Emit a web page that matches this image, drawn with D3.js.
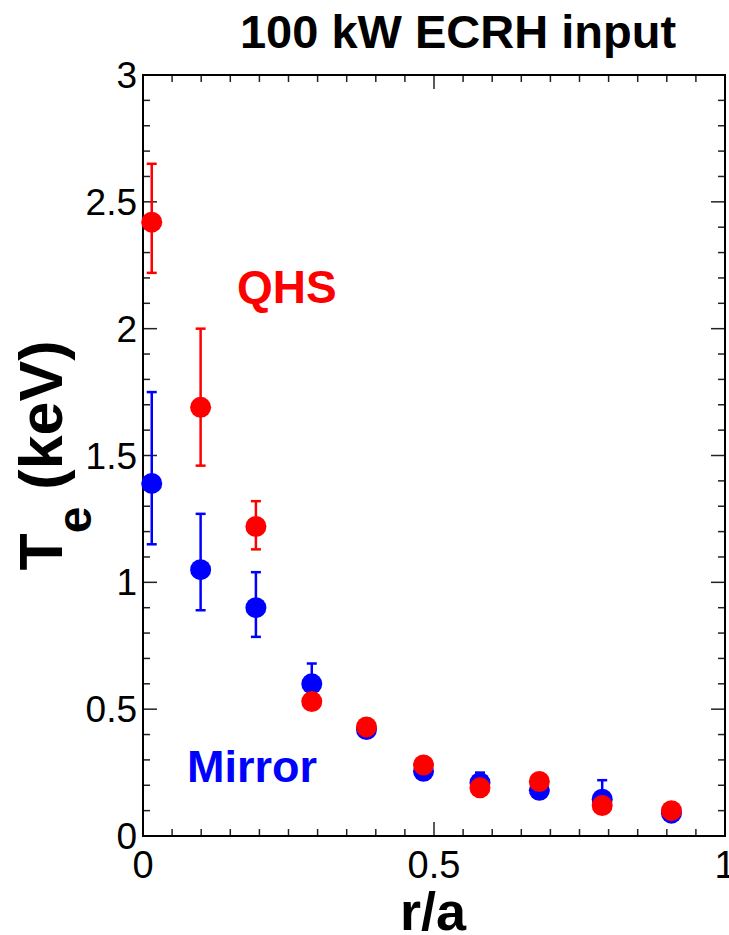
<!DOCTYPE html>
<html>
<head>
<meta charset="utf-8">
<script src="https://cdn.jsdelivr.net/npm/d3@7"></script>
<style>
  html, body { margin: 0; padding: 0; background: #fff; }
  svg { display: block; }
  text { font-family: "Liberation Sans", Arial, sans-serif; }
</style>
</head>
<body>
<svg id="chart" width="729" height="935"></svg>
<script>
// ---- data ----
const rPos = [0.015, 0.099, 0.194, 0.290, 0.384, 0.482, 0.579, 0.681, 0.789, 0.908];
const teQHS = [2.42, 1.69, 1.22, 0.53, 0.43, 0.28, 0.19, 0.215, 0.12, 0.10];
const qhsUpper = [2.65, 2.00, 1.32, null, null, null, null, null, null, null];
const qhsLower = [2.22, 1.46, 1.13, null, null, null, null, null, null, null];
const teMirror = [1.39, 1.05, 0.90, 0.60, 0.42, 0.255, 0.21, 0.18, 0.145, 0.09];
const mirUpper = [1.75, 1.27, 1.04, 0.68, null, null, 0.25, null, 0.22, null];
const mirLower = [1.15, 0.89, 0.785, 0.56, null, null, 0.19, null, 0.12, null];
const xTicks = [0, 0.5, 1];
const yTicks = [0, 0.5, 1, 1.5, 2, 2.5, 3];
const titleText = "100 kW ECRH input";

// ---- layout ----
const svg = d3.select("#chart");
const L = 143, R = 725, T = 75, B = 836;
const x = d3.scaleLinear().domain([0, 1]).range([L, R]);
const y = d3.scaleLinear().domain([0, 3]).range([B, T]);

const g = svg.append("g");

// minor/major ticks, inward, on all four sides
const xMinor = d3.range(0, 1.0001, 0.05);
const yMinor = d3.range(0, 3.0001, 0.1);
const isMajor = v => Math.abs(v * 2 - Math.round(v * 2)) < 1e-6;
const major = 14, minor = 7;

xMinor.forEach(v => {
  const len = isMajor(v) ? major : minor;
  g.append("line").attr("x1", x(v)).attr("x2", x(v)).attr("y1", B).attr("y2", B - len)
    .attr("stroke", "#222").attr("stroke-width", 1.5);
  g.append("line").attr("x1", x(v)).attr("x2", x(v)).attr("y1", T).attr("y2", T + len)
    .attr("stroke", "#222").attr("stroke-width", 1.5);
});
yMinor.forEach(v => {
  const len = isMajor(v) ? major : minor;
  g.append("line").attr("x1", L).attr("x2", L + len).attr("y1", y(v)).attr("y2", y(v))
    .attr("stroke", "#222").attr("stroke-width", 1.5);
  g.append("line").attr("x1", R).attr("x2", R - len).attr("y1", y(v)).attr("y2", y(v))
    .attr("stroke", "#222").attr("stroke-width", 1.5);
});

// frame
g.append("rect").attr("x", L).attr("y", T).attr("width", R - L).attr("height", B - T)
  .attr("fill", "none").attr("stroke", "#000").attr("stroke-width", 2);

// tick labels
g.selectAll(".xt").data(xTicks).enter().append("text")
  .attr("x", d => x(d)).attr("y", 878)
  .attr("text-anchor", "middle").attr("font-size", 38).attr("fill", "#000")
  .text(d => d3.format("")(d));
g.selectAll(".yt").data(yTicks).enter().append("text")
  .attr("x", 137).attr("y", d => y(d) + 13)
  .attr("text-anchor", "end").attr("font-size", 37).attr("fill", "#000")
  .text(d => d3.format("")(d));

// axis titles
g.append("text").attr("x", 433).attr("y", 930).attr("text-anchor", "middle")
  .attr("font-size", 54).attr("font-weight", "bold").text("r/a");

const yl = g.append("text")
  .attr("transform", `translate(62, ${(T + B) / 2}) rotate(-90)`)
  .attr("text-anchor", "middle").attr("font-size", 61).attr("font-weight", "bold");
yl.append("tspan").text("T");
yl.append("tspan").attr("font-size", 48).attr("dy", 29).text("e");
yl.append("tspan").attr("dy", -29).text(" (keV)");

// title
g.append("text").attr("x", 458).attr("y", 48).attr("text-anchor", "middle")
  .attr("font-size", 47).attr("font-weight", "bold").text(titleText);

// series annotations
g.append("text").attr("x", 237).attr("y", 303).attr("font-size", 46)
  .attr("font-weight", "bold").attr("fill", "#ff0000").text("QHS");
g.append("text").attr("x", 187).attr("y", 782).attr("font-size", 45)
  .attr("font-weight", "bold").attr("fill", "#0000ff").text("Mirror");

function drawSeries(vals, up, lo, color) {
  const data = rPos.map((r, i) => ({ r, v: vals[i], u: up[i], l: lo[i] }));
  const eb = data.filter(d => d.u !== null);
  const cap = 5;
  eb.forEach(d => {
    g.append("line").attr("x1", x(d.r)).attr("x2", x(d.r)).attr("y1", y(d.u)).attr("y2", y(d.l))
      .attr("stroke", color).attr("stroke-width", 2.5);
    [d.u, d.l].forEach(e => {
      g.append("line").attr("x1", x(d.r) - cap).attr("x2", x(d.r) + cap).attr("y1", y(e)).attr("y2", y(e))
        .attr("stroke", color).attr("stroke-width", 2.5);
    });
  });
  g.selectAll(null).data(data).enter().append("circle")
    .attr("cx", d => x(d.r)).attr("cy", d => y(d.v)).attr("r", 10.5).attr("fill", color);
}
drawSeries(teMirror, mirUpper, mirLower, "#0000ff");
drawSeries(teQHS, qhsUpper, qhsLower, "#ff0000");
</script>
</body>
</html>
